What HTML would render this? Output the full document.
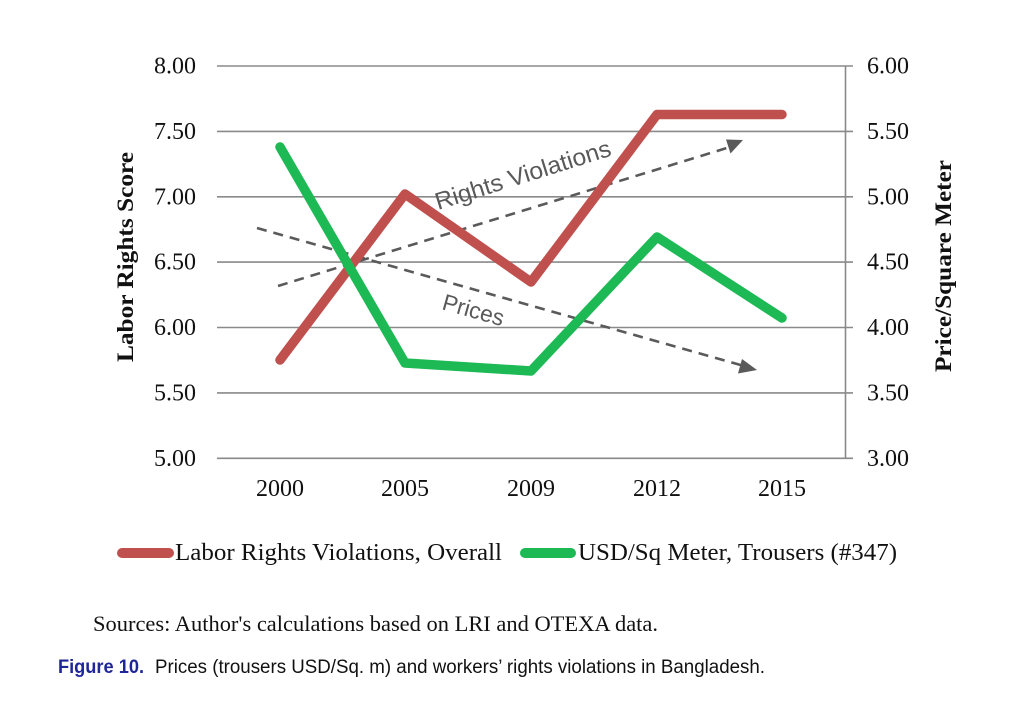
<!DOCTYPE html>
<html>
<head>
<meta charset="utf-8">
<style>
html,body{margin:0;padding:0;background:#fff;}
svg{display:block;}
.serif{font-family:"Liberation Serif","Times New Roman",serif;}
.sans{font-family:"Liberation Sans",Arial,sans-serif;}
</style>
</head>
<body>
<svg width="1028" height="718" viewBox="0 0 1028 718" xmlns="http://www.w3.org/2000/svg">
  <rect width="1028" height="718" fill="#fff"/>
  <!-- gridlines -->
  <g stroke="#8a8a8a" stroke-width="1.6">
    <line x1="217" y1="66" x2="853" y2="66"/>
    <line x1="217" y1="131.4" x2="853" y2="131.4"/>
    <line x1="217" y1="196.8" x2="853" y2="196.8"/>
    <line x1="217" y1="262.1" x2="853" y2="262.1"/>
    <line x1="217" y1="327.5" x2="853" y2="327.5"/>
    <line x1="217" y1="392.9" x2="853" y2="392.9"/>
    <line x1="217" y1="458.3" x2="853" y2="458.3"/>
    <line x1="845.5" y1="66" x2="845.5" y2="458.3"/>
  </g>
  <!-- left tick labels -->
  <g class="serif" font-size="24" fill="#111" text-anchor="end">
    <text x="196" y="73.5">8.00</text>
    <text x="196" y="139">7.50</text>
    <text x="196" y="204.3">7.00</text>
    <text x="196" y="269.6">6.50</text>
    <text x="196" y="335">6.00</text>
    <text x="196" y="400.4">5.50</text>
    <text x="196" y="465.8">5.00</text>
  </g>
  <!-- right tick labels -->
  <g class="serif" font-size="24" fill="#111">
    <text x="867" y="73.5">6.00</text>
    <text x="867" y="139">5.50</text>
    <text x="867" y="204.3">5.00</text>
    <text x="867" y="269.6">4.50</text>
    <text x="867" y="335">4.00</text>
    <text x="867" y="400.4">3.50</text>
    <text x="867" y="465.8">3.00</text>
  </g>
  <!-- x labels -->
  <g class="serif" font-size="24" fill="#111" text-anchor="middle">
    <text x="280" y="496">2000</text>
    <text x="405" y="496">2005</text>
    <text x="531" y="496">2009</text>
    <text x="657" y="496">2012</text>
    <text x="782" y="496">2015</text>
  </g>
  <!-- axis titles -->
  <text class="serif" font-size="23" font-weight="bold" fill="#111" text-anchor="middle" transform="translate(133,257) rotate(-90)" textLength="210" lengthAdjust="spacingAndGlyphs">Labor Rights Score</text>
  <text class="serif" font-size="23" font-weight="bold" fill="#111" text-anchor="middle" transform="translate(951,266) rotate(-90)" textLength="212" lengthAdjust="spacingAndGlyphs">Price/Square Meter</text>

  <!-- dashed trend arrows -->
  <g stroke="#5a5a5a" stroke-width="2.6" stroke-dasharray="10,7" fill="none">
    <line x1="278" y1="286" x2="730" y2="147"/>
    <line x1="257" y1="228" x2="744" y2="366"/>
  </g>
  <g fill="#5a5a5a">
    <polygon points="743,140 726,139.5 730.5,153.5"/>
    <polygon points="757,370 742,359 738,373.5"/>
  </g>
  <text class="sans" font-size="24" fill="#595959" transform="translate(438,210) rotate(-17.4)" textLength="183" lengthAdjust="spacingAndGlyphs">Rights Violations</text>
  <text class="sans" font-size="23" fill="#595959" transform="translate(441,309) rotate(15.8)" textLength="63" lengthAdjust="spacingAndGlyphs">Prices</text>

  <!-- series -->
  <polyline points="280,360 405,194 531,282 657,114.5 782,114.5" fill="none" stroke="#c0504d" stroke-width="9.5" stroke-linecap="round" stroke-linejoin="round"/>
  <polyline points="280,147 405,363 531,371 657,237 782,318" fill="none" stroke="#1db954" stroke-width="9.5" stroke-linecap="round" stroke-linejoin="round"/>

  <!-- legend -->
  <line x1="122" y1="553" x2="169" y2="553" stroke="#c0504d" stroke-width="10" stroke-linecap="round"/>
  <text class="serif" font-size="24" fill="#111" x="175" y="560" textLength="327" lengthAdjust="spacingAndGlyphs">Labor Rights Violations, Overall</text>
  <line x1="525" y1="553" x2="571" y2="553" stroke="#1db954" stroke-width="10" stroke-linecap="round"/>
  <text class="serif" font-size="24" fill="#111" x="578" y="560" textLength="319" lengthAdjust="spacingAndGlyphs">USD/Sq Meter, Trousers (#347)</text>

  <!-- sources -->
  <text class="serif" font-size="22" fill="#111" x="93" y="631" textLength="565" lengthAdjust="spacingAndGlyphs">Sources: Author's calculations based on LRI and OTEXA data.</text>

  <!-- caption -->
  <text class="sans" font-size="19" font-weight="bold" fill="#1f2699" x="58" y="673" textLength="86" lengthAdjust="spacingAndGlyphs">Figure 10.</text>
  <text class="sans" font-size="19" fill="#111" x="155" y="673" textLength="610" lengthAdjust="spacingAndGlyphs">Prices (trousers USD/Sq. m) and workers’ rights violations in Bangladesh.</text>
</svg>
</body>
</html>
